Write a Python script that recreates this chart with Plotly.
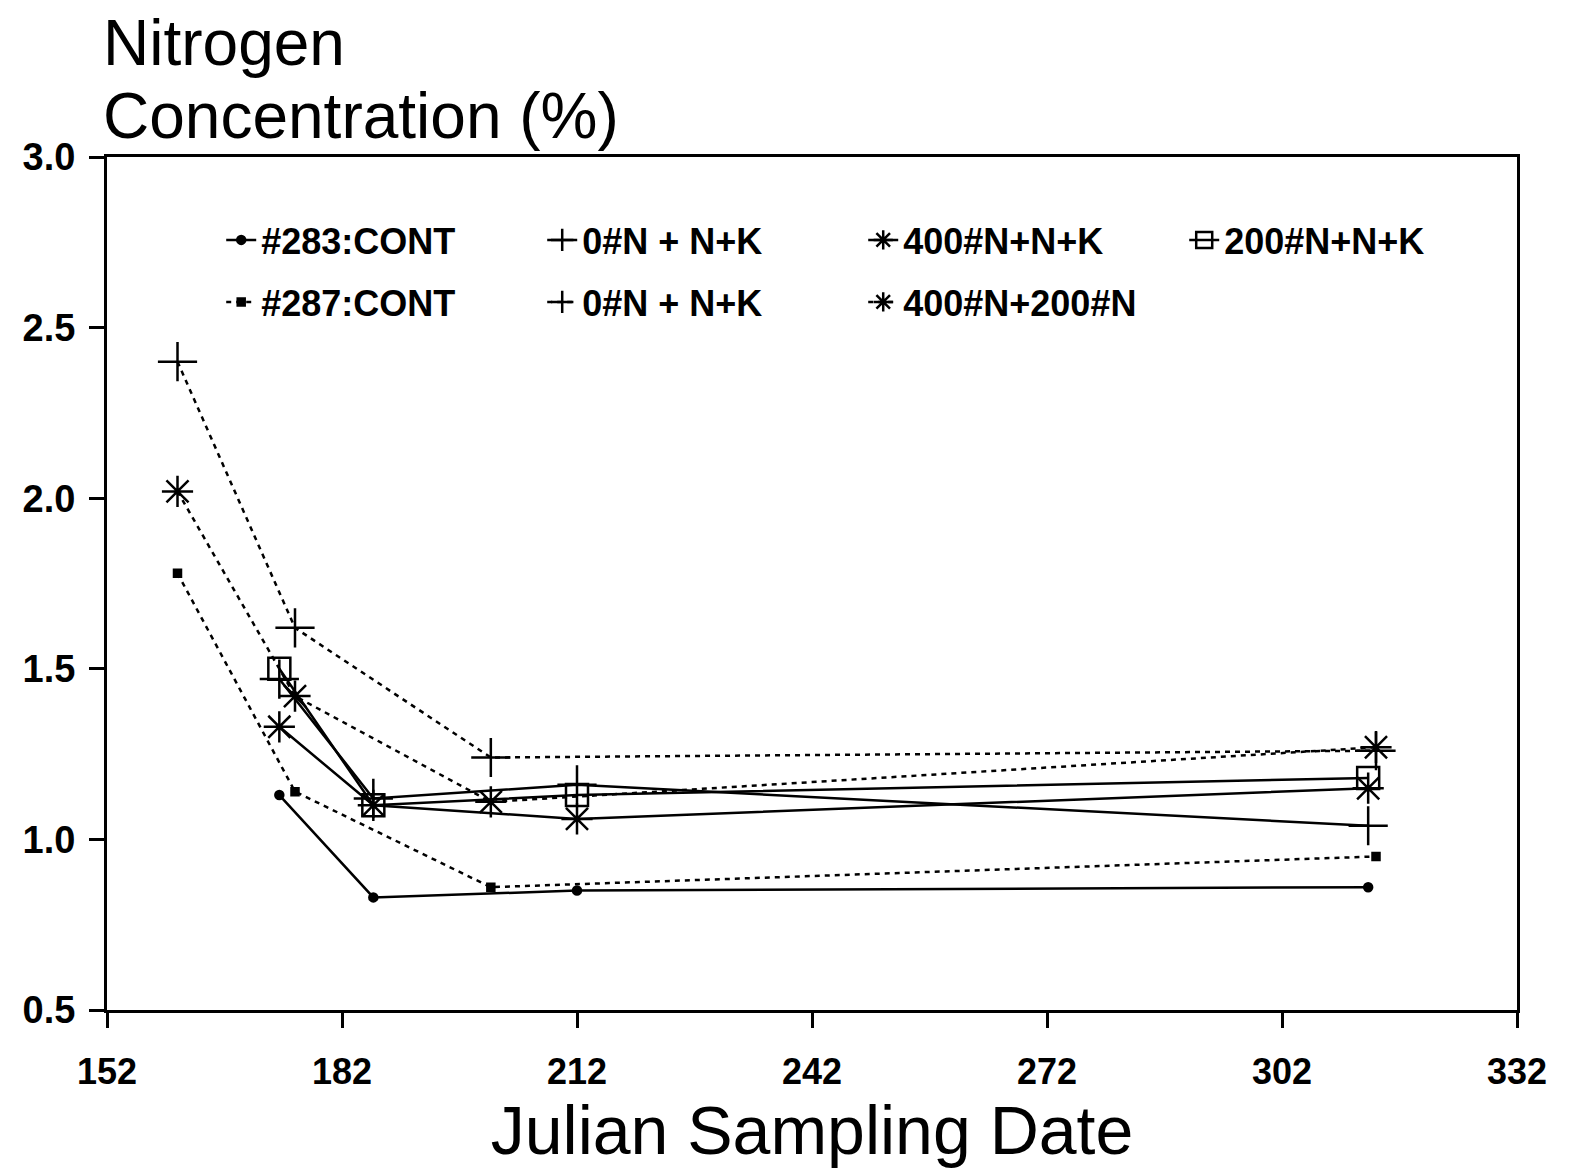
import plotly.graph_objects as go

# ---- data ----
dates_a = [174, 186, 212, 313]
dates_b = [161, 176, 201, 314]

cont283 = [1.13, 0.83, 0.85, 0.86]
cont287 = [1.78, 1.14, 0.86, 0.95]
n0_solid = [1.47, 1.12, 1.16, 1.04]
n400_solid = [1.33, 1.10, 1.06, 1.15]
n200_solid = [1.50, 1.10, 1.13, 1.18]
n0_dotted = [2.40, 1.62, 1.24, 1.26]
n400_200_dotted = [2.02, 1.42, 1.11, 1.27]

x_ticks = [152, 182, 212, 242, 272, 302, 332]
y_ticks = [0.5, 1.0, 1.5, 2.0, 2.5, 3.0]

BOLD = "Liberation Sans"
DOT = "5px,5px"

fig = go.Figure()

def add(x, y, name, symbol, size, dash, legend):
    fig.add_trace(go.Scatter(
        x=x, y=y, name=name, mode="lines+markers",
        line=dict(color="black", width=2.5, dash=dash),
        marker=dict(symbol=symbol, size=size, color="black",
                    line=dict(color="black", width=2.5)),
        legend=legend,
    ))

add(dates_a, cont283, "#283:CONT", "circle", 8, "solid", "legend")
add(dates_a, n0_solid, "0#N + N+K", "cross-thin-open", 28, "solid", "legend")
add(dates_a, n400_solid, "400#N+N+K", "asterisk-open", 26, "solid", "legend")
add(dates_a, n200_solid, "200#N+N+K", "square-open", 22, "solid", "legend")
add(dates_b, cont287, "#287:CONT", "square", 7, DOT, "legend2")
add(dates_b, n0_dotted, "0#N + N+K", "cross-thin-open", 28, DOT, "legend2")
add(dates_b, n400_200_dotted, "400#N+200#N", "asterisk-open", 26, DOT, "legend2")

legend_common = dict(
    orientation="h", xanchor="left", yanchor="middle",
    font=dict(family=BOLD, size=36, color="black", weight="bold"),
    bgcolor="rgba(0,0,0,0)", entrywidth=276, itemwidth=30,
)

fig.update_layout(
    width=1561, height=1164,
    margin=dict(l=99, r=52, t=149, b=162),
    plot_bgcolor="white", paper_bgcolor="white",
    showlegend=True,
    legend=dict(x=0.081, y=0.9027, **legend_common),
    legend2=dict(x=0.081, y=0.830, **legend_common),
    xaxis=dict(
        range=[152, 332], tickvals=x_ticks, ticktext=[str(v) for v in x_ticks],
        showgrid=False, zeroline=False, showline=True, linecolor="black",
        linewidth=3, mirror=True, ticks="outside", ticklen=15, tickwidth=2.5,
        tickcolor="black", ticklabelstandoff=13,
        tickfont=dict(family=BOLD, size=36, color="black", weight="bold"),
        title=dict(text="Julian Sampling Date", standoff=12,
                   font=dict(family="Liberation Sans", size=68, color="black")),
    ),
    yaxis=dict(
        range=[0.5, 3.0], tickvals=y_ticks, ticktext=[f"{v:.1f}" for v in y_ticks],
        showgrid=False, zeroline=False, showline=True, linecolor="black",
        linewidth=3, mirror=True, ticks="outside", ticklen=15, tickwidth=2.5,
        tickcolor="black", ticklabelstandoff=6,
        tickfont=dict(family=BOLD, size=38, color="black", weight="bold"),
    ),
    annotations=[
        dict(text="Nitrogen", x=-0.004, y=1.1331, xref="paper", yref="paper",
             xanchor="left", yanchor="middle", showarrow=False,
             font=dict(family="Liberation Sans", size=64, color="black")),
        dict(text="Concentration (%)", x=-0.004, y=1.0481, xref="paper", yref="paper",
             xanchor="left", yanchor="middle", showarrow=False,
             font=dict(family="Liberation Sans", size=64, color="black")),
    ],
)

fig.write_html("out.html")
